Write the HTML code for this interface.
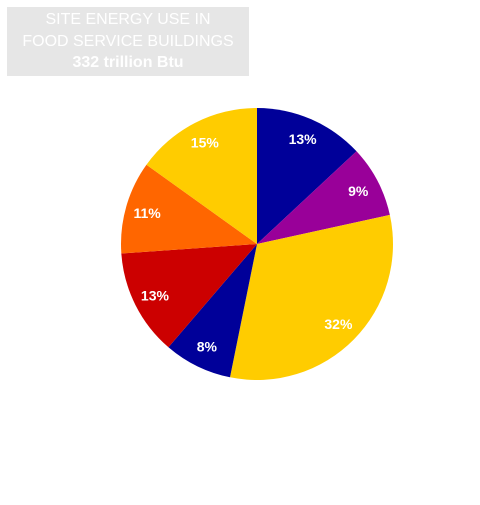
<!DOCTYPE html>
<html><head><meta charset="utf-8"><style>
body{margin:0;background:#fff;width:480px;height:505px;overflow:hidden;font-family:"Liberation Sans",sans-serif}
#title{position:absolute;left:7px;top:7px;width:242px;height:69px;background:#e6e6e6;color:#fff;text-align:center;font-size:16px;line-height:21.5px;padding-top:2px;box-sizing:border-box}
</style></head><body>
<div id="title">SITE ENERGY USE IN<br>FOOD SERVICE BUILDINGS<br><b>332 trillion Btu</b></div>
<svg id="pie" width="480" height="505" style="position:absolute;left:0;top:0"></svg>
<script>
const categories=["a","b","c","d","e","f","g"];
const values=[13.06,8.5,31.6,8.1,12.6,11.0,15.1];
const labels=["13%","9%","32%","8%","13%","11%","15%"];
const colors=["#000099","#990099","#ffcc00","#000099","#cc0000","#ff6600","#ffcc00"];
const svg=document.getElementById('pie');
const NS='http://www.w3.org/2000/svg';
const cx=257,cy=244,r=136;
const total=values.reduce((a,b)=>a+b,0);
function pt(a,rr){return [cx+rr*Math.sin(a),cy-rr*Math.cos(a)];}
let acc=0;
values.forEach((v,i)=>{
  const a0=acc/total*2*Math.PI;acc+=v;const a1=acc/total*2*Math.PI;
  const p0=pt(a0,r),p1=pt(a1,r);
  const path=document.createElementNS(NS,'path');
  path.setAttribute('d',`M${cx},${cy}L${p0[0]},${p0[1]}A${r},${r} 0 ${a1-a0>Math.PI?1:0} 1 ${p1[0]},${p1[1]}Z`);
  path.setAttribute('fill',colors[i]);
  
  
  svg.appendChild(path);
  const m=pt((a0+a1)/2,r*0.84);
  const t=document.createElementNS(NS,'text');
  t.setAttribute('x',m[0]);t.setAttribute('y',m[1]+5);
  t.setAttribute('text-anchor','middle');t.setAttribute('fill','#fff');
  t.setAttribute('font-size','14');t.setAttribute('font-weight','bold');
  t.setAttribute('font-family','Liberation Sans, sans-serif');
  t.textContent=labels[i];
  
  
  svg.appendChild(t);
});
</script>
</body></html>
